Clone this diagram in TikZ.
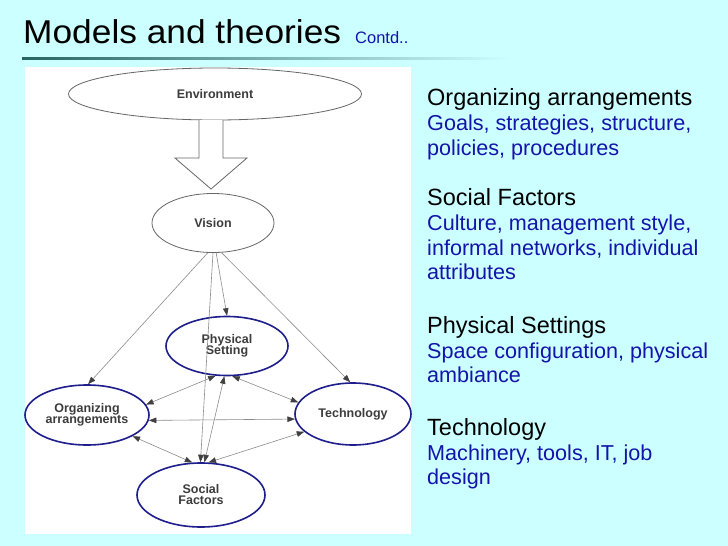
\documentclass[tikz,border=0pt]{standalone}
\usepackage{fontspec}
\usepackage{graphicx}
\setmainfont{Liberation Sans}
\usetikzlibrary{arrows.meta,shapes.geometric}
\definecolor{bg}{RGB}{204,255,255}
\definecolor{rule}{RGB}{40,100,100}
\definecolor{txtblue}{RGB}{20,20,170}
\definecolor{nodeblue}{RGB}{30,30,140}
\definecolor{lbl}{RGB}{60,60,60}
\definecolor{edge}{RGB}{140,140,140}
\begin{document}
\begin{tikzpicture}[x=1pt,y=-1pt,
  grayell/.style={draw=black!60,line width=0.8pt,fill=white,ellipse},
  blueell/.style={draw=nodeblue,line width=1.6pt,fill=white,ellipse},
  lab/.style={font=\fontsize{12.5}{13}\selectfont\bfseries,text=lbl,align=center},
  conn/.style={draw=edge,line width=0.6pt,-{Triangle[length=7.5pt,width=5.5pt,fill=black!75,color=black!75]}},
  dconn/.style={draw=edge,line width=0.6pt,{Triangle[length=7.5pt,width=5.5pt,fill=black!75,color=black!75]}-{Triangle[length=7.5pt,width=5.5pt,fill=black!75,color=black!75]}},
  head/.style={font=\fontsize{23.5}{25}\selectfont,text=black,anchor=base west,inner sep=0pt},
  body/.style={font=\fontsize{21.6}{25}\selectfont,text=txtblue,anchor=base west,inner sep=0pt}
]
\useasboundingbox (0,0) rectangle (728,546);
\fill[bg] (0,0) rectangle (728,546);
% title
\node[anchor=base west,inner sep=0pt,font=\fontsize{33}{33}\selectfont] (title) at (23,43) {\scalebox{1.07}[1]{Models and theories}};
\node[anchor=base west,inner sep=0pt,font=\fontsize{16.5}{16}\selectfont,text=txtblue] (contd) at (355,43) {Contd..};
\shade[left color=rule,right color=bg] (22,57) rectangle (510,59.5);
% panel
\fill[white] (25,67) rectangle (411,534);
% nodes
\node[grayell,minimum width=293pt,minimum height=52pt] (env) at (215,94) {};
\node[lab] at (env) {Environment};
\node[grayell,minimum width=122pt,minimum height=59pt] (vis) at (213,223) {};
\node[lab] at (vis) {Vision};
\node[blueell,minimum width=122pt,minimum height=59pt] (phy) at (227,346) {};
\node[lab] at (phy) {Physical\\[-2pt]Setting};
\node[blueell,minimum width=124pt,minimum height=60pt] (org) at (87,415) {};
\node[lab] at (org) {Organizing\\[-2pt]arrangements};
\node[blueell,minimum width=116pt,minimum height=62pt] (tec) at (353,414) {};
\node[lab] at (tec) {Technology};
\node[blueell,minimum width=128pt,minimum height=64pt] (soc) at (201,495) {};
\node[lab] at (soc) {Social\\[-2pt]Factors};
% big hollow arrow
\draw[black!60,line width=0.8pt,fill=white]
  (199,120) -- (199,158) -- (175,158) -- (211,189) -- (247,158) -- (223,158) -- (223,120);
% connectors from vision
\draw[conn] (vis.260) -- (org.88);
\draw[conn] (vis.286) -- (tec.95);
\draw[conn] (vis.276) -- (phy.90);
\draw[conn] (vis.270) -- (soc.91);
% double connectors
\draw[dconn] (phy.249) -- (org.10);
\draw[dconn] (phy.280) -- (tec.168);
\draw[dconn] (org.355) -- (tec.185);
\draw[dconn] (org.335) -- (soc.105);
\draw[dconn] (tec.200) -- (soc.77);
\draw[dconn] (phy.265) -- (soc.84);
% right texts
\node[head] (h1) at (427,105) {Organizing arrangements};
\node[body] (b1a) at (427,130) {Goals, strategies, structure,};
\node[body] (b1b) at (427,155) {policies, procedures};
\node[head] (h2) at (427,205) {Social Factors};
\node[body] (b2a) at (427,230) {Culture, management style,};
\node[body] (b2b) at (427,255) {informal networks, individual};
\node[body] (b2c) at (427,279) {attributes};
\node[head] (h3) at (427,333) {Physical Settings};
\node[body] (b3a) at (427,358) {Space configuration, physical};
\node[body] (b3b) at (427,382) {ambiance};
\node[head] (h4) at (427,435) {Technology};
\node[body] (b4a) at (427,460) {Machinery, tools, IT, job};
\node[body] (b4b) at (427,484) {design};
\end{tikzpicture}
\end{document}
